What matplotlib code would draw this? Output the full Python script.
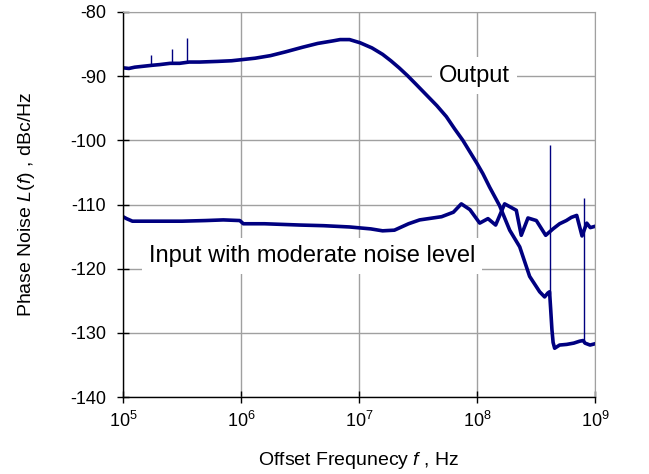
import matplotlib
matplotlib.use("Agg")
import matplotlib.pyplot as plt
import numpy as np

plt.rcParams['font.family'] = ['Liberation Sans', 'DejaVu Sans']
plt.rcParams['mathtext.fontset'] = 'custom'
plt.rcParams['mathtext.rm'] = 'Liberation Sans'
plt.rcParams['mathtext.it'] = 'Liberation Sans:italic'
plt.rcParams['axes.unicode_minus'] = False

# Output curve (log10 of frequency, dBc/Hz)
out_logf = [5.00, 5.05, 5.10, 5.15, 5.20, 5.25, 5.31, 5.40, 5.48, 5.56, 5.65, 5.80, 5.92, 6.02,
            6.12, 6.25, 6.38, 6.52, 6.65, 6.78, 6.84, 6.92, 7.01, 7.11, 7.20, 7.27, 7.34, 7.41,
            7.48, 7.57, 7.66, 7.74, 7.81, 7.88, 7.94, 8.00, 8.05, 8.107, 8.192, 8.277, 8.362,
            8.446, 8.531, 8.573, 8.600, 8.615, 8.625, 8.635, 8.645, 8.658, 8.70, 8.76, 8.82,
            8.87, 8.90, 8.915, 8.958, 9.00]
out_db = [-88.7, -88.8, -88.6, -88.5, -88.4, -88.3, -88.2, -88.0, -88.0, -87.8, -87.8, -87.7,
          -87.6, -87.4, -87.2, -86.8, -86.2, -85.5, -84.9, -84.5, -84.3, -84.3, -84.8, -85.6,
          -86.6, -87.6, -88.7, -89.9, -91.2, -92.9, -94.6, -96.3, -98.2, -100.0, -101.8,
          -103.6, -105.2, -107.3, -110.2, -114.0, -116.6, -121.2, -123.6, -124.4, -123.8,
          -123.6, -126.5, -129.5, -131.5, -132.4, -131.9, -131.8, -131.6, -131.3, -131.2,
          -131.6, -131.9, -131.7]

# Input curve
in_logf = [5.00, 5.03, 5.08, 5.15, 5.30, 5.50, 5.70, 5.85, 5.99, 6.02, 6.20, 6.50, 6.70,
           6.92, 7.10, 7.20, 7.30, 7.42, 7.514, 7.70, 7.80, 7.867, 7.94, 8.023, 8.093, 8.158,
           8.234, 8.333, 8.375, 8.432, 8.503, 8.582, 8.644, 8.70, 8.757, 8.80, 8.845, 8.89,
           8.93, 8.96, 9.00]
in_db = [-111.9, -112.2, -112.6, -112.6, -112.6, -112.6, -112.5, -112.4, -112.5, -113.0,
         -113.0, -113.2, -113.3, -113.5, -113.8, -114.1, -114.0, -113.0, -112.4, -111.9,
         -111.2, -109.9, -110.8, -112.9, -112.2, -113.2, -109.9, -110.9, -114.8, -112.1,
         -112.5, -114.8, -113.8, -113.0, -112.5, -112.0, -111.7, -114.9, -112.9, -113.6,
         -113.4]

# Narrow spurs on the output curve (log10 f, base level, peak level)
spur_logf = [5.235, 5.418, 5.54, 8.62, 8.907]
spur_base = [-88.4, -88.1, -87.9, -124.0, -131.3]
spur_top = [-86.7, -85.7, -84.0, -100.7, -109.0]

navy = '#000080'
fig = plt.figure(figsize=(6.49, 4.74), dpi=100)
ax = fig.add_axes([0.1895, 0.1624, 0.7273, 0.8123])

ax.plot(10 ** np.array(out_logf), out_db, color=navy, lw=2.6, solid_joinstyle='round')
ax.plot(10 ** np.array(in_logf), in_db, color=navy, lw=2.6, solid_joinstyle='round')
ax.vlines(10 ** np.array(spur_logf), spur_base, spur_top, color=navy, lw=1.0)

ax.set_xscale('log')
ax.set_xlim(1e5, 1e9)
ax.set_ylim(-140, -80)
ax.set_yticks(np.arange(-140, -79, 10))
ax.set_xticks([1e5, 1e6, 1e7, 1e8, 1e9])
ax.minorticks_off()
ax.grid(True, color='#a0a0a0', lw=1.0)
ax.set_axisbelow(True)
for s in ['top', 'right']:
    ax.spines[s].set_color('#a0a0a0')
for s in ['left', 'bottom']:
    ax.spines[s].set_color('black')
    ax.spines[s].set_linewidth(1.0)
ax.tick_params(direction='inout', length=8, width=1, labelsize=13, top=False, right=False)
ax.tick_params(axis='y', pad=8)
ax.tick_params(axis='x', pad=6)

ax.set_xlabel('Offset Frequnecy $\\mathit{f}$ , Hz', fontsize=14, labelpad=14)
ax.set_ylabel('Phase Noise $\\mathit{L(f)}$ , dBc/Hz', fontsize=14, labelpad=24)

bbox = dict(boxstyle='square,pad=0.3', fc='white', ec='none')
ax.text(10 ** 7.98, -89.9, 'Output', fontsize=17, ha='center', va='center', bbox=bbox)
ax.text(10 ** 6.60, -118.0, 'Input with moderate noise level', fontsize=17,
        ha='center', va='center', bbox=bbox)

fig.savefig('out.png', dpi=100)
